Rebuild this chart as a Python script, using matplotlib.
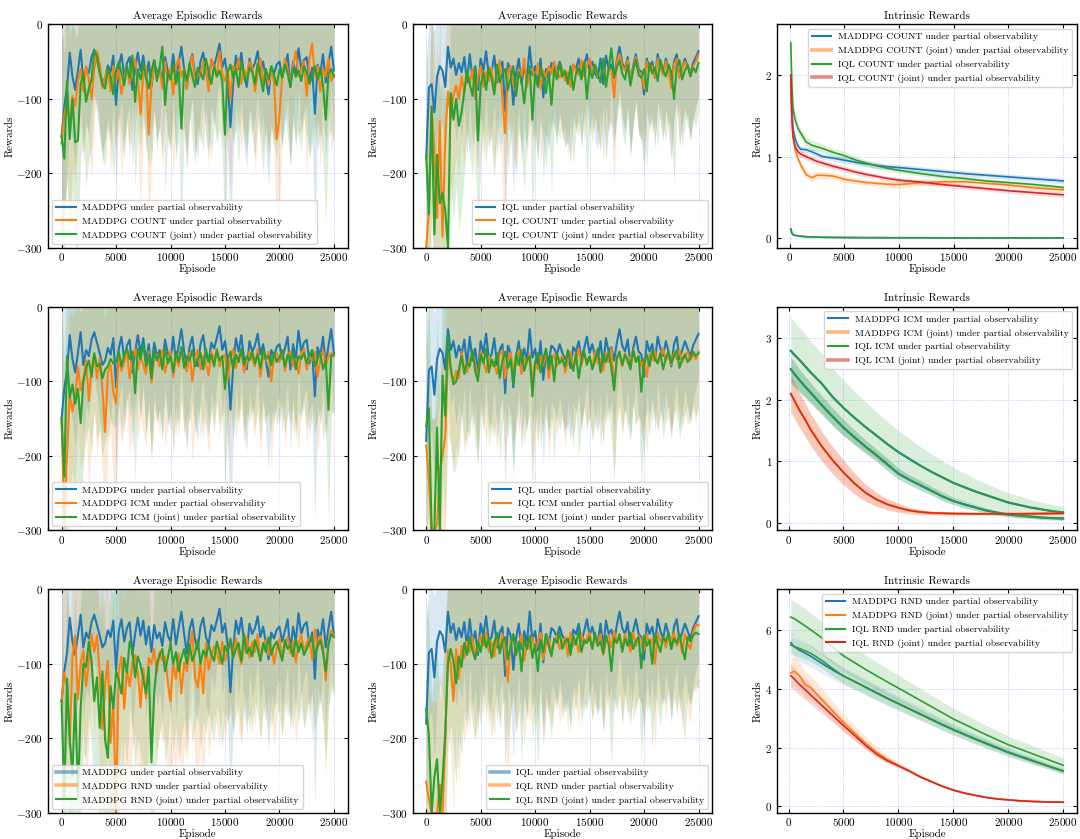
import matplotlib
matplotlib.use('Agg')
from matplotlib import pyplot as plt
from matplotlib import rcParams
from matplotlib.lines import Line2D
import numpy as np

rcParams['font.family'] = 'serif'
rcParams['font.serif'] = ['cmr10']
rcParams['mathtext.fontset'] = 'cm'
rcParams['axes.formatter.use_mathtext'] = True
rcParams['axes.unicode_minus'] = True
rcParams['font.size'] = 8
rcParams['xtick.direction'] = 'in'
rcParams['ytick.direction'] = 'in'
rcParams['xtick.top'] = True
rcParams['ytick.right'] = True
rcParams['xtick.major.size'] = 3
rcParams['ytick.major.size'] = 3
rcParams['xtick.major.pad'] = 2.5
rcParams['axes.linewidth'] = 1.0

BLUE, ORANGE, GREEN, RED = '#1f77b4', '#ff7f0e', '#2ca02c', '#d62728'

# episodes at which the average episodic reward was logged
episodes = list(range(0, 25001, 250))

# ---- baselines -------------------------------------------------------------
maddpg_mean = [
    -150, -110, -85, -38, -70, -88, -62, -34, -78, -58,
    -66, -44, -34, -48, -62, -78, -72, -55, -64, -42,
    -108, -56, -40, -70, -52, -44, -88, -60, -38, -62,
    -42, -74, -50, -84, -48, -66, -58, -76, -44, -62,
    -70, -40, -74, -52, -30, -60, -86, -54, -40, -68,
    -80, -50, -38, -64, -74, -48, -56, -42, -26, -58,
    -46, -74, -138, -80, -42, -60, -38, -70, -84, -46,
    -60, -52, -36, -64, -50, -72, -94, -58, -66, -54,
    -50, -70, -56, -40, -84, -50, -70, -32, -60, -48,
    -44, -76, -58, -120, -54, -66, -40, -78, -52, -30,
    -62]
maddpg_std = [
    150, 140, 120, 90, 85, 100, 80, 70, 95, 75,
    80, 65, 60, 70, 85, 95, 80, 70, 90, 60,
    110, 75, 60, 95, 70, 65, 105, 80, 55, 85,
    60, 100, 70, 110, 65, 90, 80, 100, 60, 85,
    95, 60, 100, 75, 50, 85, 110, 75, 60, 95,
    100, 70, 55, 90, 100, 65, 80, 60, 50, 85,
    65, 100, 150, 100, 60, 85, 55, 95, 110, 65,
    85, 75, 55, 90, 70, 95, 125, 80, 90, 75,
    70, 95, 75, 60, 110, 70, 95, 50, 85, 70,
    65, 100, 80, 170, 75, 90, 60, 100, 75, 50,
    85]

iql_mean = [
    -180, -85, -80, -118, -70, -56, -62, -84, -30, -58,
    -46, -68, -52, -64, -44, -78, -40, -72, -56, -88,
    -46, -62, -36, -70, -64, -42, -78, -58, -50, -116,
    -52, -62, -108, -66, -46, -80, -56, -72, -30, -68,
    -56, -82, -46, -98, -60, -74, -52, -56, -64, -50,
    -62, -70, -66, -82, -54, -60, -46, -70, -56, -40,
    -62, -50, -66, -72, -46, -80, -42, -60, -54, -72,
    -48, -30, -52, -60, -44, -78, -56, -40, -60, -64,
    -94, -46, -60, -50, -72, -40, -56, -66, -46, -60,
    -80, -50, -40, -70, -58, -46, -56, -66, -52, -44,
    -36]
iql_std = [
    130, 90, 85, 110, 80, 70, 75, 95, 60, 75,
    70, 90, 75, 85, 65, 100, 60, 95, 75, 105,
    70, 85, 60, 95, 85, 65, 100, 80, 70, 130,
    75, 85, 120, 90, 65, 105, 80, 95, 55, 90,
    80, 100, 70, 115, 85, 95, 75, 80, 90, 70,
    85, 95, 90, 100, 75, 80, 70, 95, 75, 60,
    85, 70, 90, 95, 70, 105, 65, 85, 75, 95,
    70, 55, 75, 85, 65, 100, 80, 60, 85, 90,
    110, 70, 85, 70, 95, 60, 80, 90, 65, 85,
    100, 75, 60, 95, 80, 65, 80, 90, 75, 65,
    60]

# ---- COUNT -----------------------------------------------------------------
maddpg_count_mean = [
    -160, -122, -100, -135, -96, -110, -76, -60, -90, -56,
    -74, -100, -60, -36, -52, -86, -70, -60, -90, -56,
    -76, -62, -94, -70, -56, -80, -60, -46, -74, -120,
    -64, -56, -148, -80, -56, -70, -60, -86, -50, -76,
    -60, -94, -56, -46, -70, -60, -86, -56, -42, -80,
    -64, -70, -50, -60, -90, -46, -56, -70, -36, -66,
    -76, -60, -100, -56, -66, -46, -80, -60, -70, -50,
    -56, -90, -66, -46, -76, -60, -82, -62, -76, -154,
    -124, -70, -46, -60, -80, -56, -36, -70, -60, -50,
    -96, -46, -26, -70, -56, -90, -60, -70, -46, -76,
    -68]
maddpg_count_std = [
    140, 120, 110, 120, 95, 105, 85, 75, 100, 70,
    85, 110, 75, 60, 70, 100, 85, 75, 110, 70,
    90, 75, 115, 80, 70, 100, 75, 60, 90, 130,
    80, 70, 150, 100, 70, 85, 75, 105, 65, 90,
    75, 110, 70, 60, 85, 75, 105, 70, 55, 95,
    80, 90, 65, 75, 105, 60, 70, 85, 50, 80,
    95, 75, 120, 70, 80, 60, 95, 75, 85, 65,
    70, 110, 80, 60, 95, 75, 100, 80, 95, 150,
    130, 85, 60, 75, 100, 70, 50, 90, 75, 65,
    115, 60, 45, 90, 70, 105, 75, 85, 60, 95,
    85]
maddpg_count_joint_mean = [
    -150, -180, -76, -154, -100, -158, -156, -80, -66, -104,
    -86, -74, -36, -42, -66, -80, -86, -60, -70, -94,
    -62, -50, -66, -82, -56, -72, -42, -104, -60, -74,
    -52, -70, -86, -62, -48, -76, -58, -30, -108, -64,
    -74, -54, -80, -64, -140, -60, -76, -52, -70, -84,
    -58, -66, -74, -46, -64, -80, -56, -70, -62, -76,
    -148, -64, -54, -72, -60, -84, -50, -68, -76, -58,
    -64, -80, -52, -70, -90, -60, -74, -56, -68, -82,
    -60, -72, -54, -66, -84, -58, -70, -62, -76, -56,
    -64, -80, -70, -56, -74, -60, -82, -128, -66, -60,
    -70]
maddpg_count_joint_std = [
    150, 140, 110, 150, 120, 140, 145, 100, 85, 115,
    95, 90, 60, 65, 85, 100, 105, 80, 90, 110,
    80, 70, 85, 100, 75, 95, 60, 115, 80, 95,
    70, 90, 105, 80, 65, 95, 75, 55, 120, 85,
    95, 70, 100, 85, 140, 80, 95, 70, 90, 105,
    75, 85, 95, 65, 85, 100, 75, 90, 80, 95,
    150, 85, 70, 90, 80, 105, 70, 85, 95, 75,
    85, 100, 70, 90, 110, 80, 95, 75, 90, 100,
    80, 90, 70, 85, 105, 75, 90, 80, 95, 70,
    85, 100, 90, 75, 95, 80, 100, 140, 85, 80,
    90]
iql_count_mean = [
    -300, -250, -110, -170, -260, -130, -285, -155, -90, -125,
    -95, -82, -100, -70, -92, -64, -80, -60, -100, -72,
    -56, -84, -64, -76, -58, -92, -70, -48, -100, -146,
    -64, -56, -80, -92, -60, -70, -46, -84, -62, -60,
    -74, -52, -86, -62, -70, -56, -66, -50, -62, -72,
    -60, -76, -64, -84, -54, -62, -68, -48, -70, -56,
    -46, -64, -56, -70, -74, -50, -80, -58, -62, -98,
    -50, -40, -56, -62, -48, -76, -60, -44, -64, -66,
    -86, -50, -62, -56, -72, -46, -58, -68, -50, -62,
    -86, -54, -46, -72, -60, -50, -58, -68, -56, -50,
    -40]
iql_count_std = [
    150, 150, 130, 150, 150, 140, 150, 140, 110, 130,
    110, 95, 105, 85, 100, 80, 90, 75, 115, 85,
    70, 100, 80, 90, 70, 110, 85, 60, 120, 160,
    80, 70, 100, 105, 75, 85, 60, 100, 75, 70,
    90, 65, 105, 75, 85, 70, 80, 60, 75, 85,
    75, 90, 80, 100, 65, 75, 85, 60, 85, 70,
    60, 80, 70, 85, 90, 65, 100, 70, 75, 115,
    65, 55, 70, 75, 60, 90, 75, 55, 80, 80,
    100, 65, 75, 70, 90, 60, 70, 85, 65, 75,
    100, 70, 60, 90, 75, 65, 70, 85, 70, 65,
    55]
iql_count_joint_mean = [
    -176, -255, -110, -282, -175, -240, -226, -250, -300, -92,
    -128, -100, -136, -118, -90, -62, -80, -96, -58, -156,
    -82, -64, -88, -58, -72, -94, -54, -78, -66, -60,
    -88, -72, -56, -96, -64, -76, -106, -70, -56, -128,
    -66, -84, -58, -70, -92, -64, -108, -60, -74, -52,
    -70, -62, -80, -56, -88, -66, -58, -74, -50, -100,
    -60, -72, -54, -66, -78, -46, -84, -60, -32, -70,
    -58, -48, -66, -74, -54, -82, -62, -48, -68, -72,
    -60, -90, -52, -66, -58, -76, -48, -62, -70, -54,
    -64, -100, -56, -48, -74, -62, -54, -70, -58, -64,
    -52]
iql_count_joint_std = [
    150, 150, 140, 150, 150, 150, 150, 150, 150, 120,
    140, 115, 140, 130, 110, 80, 95, 110, 75, 150,
    100, 80, 105, 70, 90, 110, 70, 95, 85, 75,
    105, 85, 70, 110, 80, 90, 120, 85, 70, 140,
    80, 100, 70, 85, 105, 80, 120, 75, 90, 65,
    85, 75, 95, 70, 100, 80, 70, 90, 65, 115,
    75, 85, 70, 80, 95, 60, 100, 75, 50, 85,
    70, 60, 80, 90, 70, 95, 75, 60, 80, 85,
    75, 105, 65, 80, 70, 90, 60, 75, 85, 70,
    80, 115, 70, 60, 90, 75, 65, 85, 70, 75,
    65]

# ---- ICM -------------------------------------------------------------------
maddpg_icm_mean = [
    -150, -290, -200, -118, -140, -120, -80, -112, -98, -72,
    -126, -82, -64, -96, -70, -110, -168, -88, -78, -114,
    -130, -66, -86, -74, -60, -96, -72, -56, -84, -66,
    -78, -90, -60, -102, -70, -64, -80, -58, -88, -72,
    -60, -94, -68, -80, -56, -76, -86, -62, -100, -70,
    -58, -84, -66, -76, -92, -60, -72, -56, -80, -68,
    -64, -98, -70, -56, -82, -66, -60, -88, -74, -60,
    -70, -80, -56, -94, -66, -72, -60, -100, -68, -62,
    -74, -58, -86, -66, -60, -80, -70, -90, -62, -56,
    -84, -66, -72, -60, -94, -70, -58, -80, -66, -62,
    -66]
maddpg_icm_std = [
    150, 150, 140, 110, 130, 115, 90, 105, 100, 85,
    125, 95, 75, 105, 85, 115, 150, 100, 90, 120,
    130, 85, 100, 90, 75, 105, 85, 70, 95, 80,
    90, 100, 75, 110, 85, 75, 95, 70, 100, 85,
    75, 105, 80, 95, 70, 90, 100, 75, 110, 85,
    70, 95, 80, 90, 105, 75, 85, 70, 95, 80,
    75, 110, 85, 70, 95, 80, 75, 100, 85, 70,
    85, 95, 70, 105, 80, 85, 75, 115, 80, 75,
    85, 70, 100, 80, 75, 95, 85, 105, 75, 70,
    100, 80, 85, 75, 105, 85, 70, 95, 80, 75,
    80]
maddpg_icm_joint_mean = [
    -150, -228, -66, -122, -104, -130, -110, -156, -100, -82,
    -72, -94, -62, -80, -76, -96, -84, -80, -70, -76,
    -74, -60, -80, -64, -56, -70, -60, -116, -56, -70,
    -50, -80, -64, -96, -58, -72, -62, -84, -56, -76,
    -66, -88, -60, -74, -54, -82, -66, -72, -58, -80,
    -70, -62, -84, -56, -74, -64, -80, -58, -72, -66,
    -110, -70, -60, -84, -64, -74, -56, -78, -66, -72,
    -60, -76, -64, -82, -58, -70, -66, -78, -62, -74,
    -68, -58, -80, -64, -72, -60, -84, -66, -70, -62,
    -76, -64, -58, -80, -70, -62, -84, -72, -138, -66,
    -64]
maddpg_icm_joint_std = [
    150, 150, 110, 130, 115, 135, 120, 150, 110, 95,
    85, 105, 75, 95, 90, 105, 95, 90, 80, 85,
    85, 70, 90, 75, 65, 80, 70, 120, 65, 80,
    60, 90, 75, 105, 70, 85, 75, 95, 65, 85,
    75, 100, 70, 85, 65, 90, 75, 85, 70, 90,
    80, 70, 95, 65, 85, 75, 90, 70, 85, 75,
    130, 80, 70, 95, 75, 85, 65, 90, 75, 85,
    70, 85, 75, 95, 70, 80, 75, 90, 70, 85,
    80, 70, 90, 75, 85, 70, 95, 75, 80, 70,
    85, 75, 70, 90, 80, 75, 95, 85, 150, 80,
    75]
iql_icm_mean = [
    -186, -232, -300, -300, -292, -220, -200, -174, -62, -84,
    -100, -86, -96, -60, -82, -88, -70, -64, -76, -96,
    -60, -72, -88, -66, -80, -74, -90, -64, -58, -96,
    -70, -62, -84, -76, -58, -90, -68, -76, -62, -100,
    -74, -84, -66, -78, -60, -96, -72, -64, -80, -70,
    -66, -88, -74, -60, -82, -70, -56, -78, -64, -72,
    -68, -80, -60, -76, -70, -86, -62, -74, -56, -110,
    -70, -64, -80, -62, -76, -68, -58, -74, -66, -80,
    -70, -94, -64, -72, -60, -76, -68, -56, -72, -66,
    -78, -62, -70, -58, -74, -66, -60, -72, -64, -70,
    -60]
iql_icm_std = [
    150, 150, 150, 150, 150, 150, 140, 140, 110, 100,
    115, 100, 110, 75, 95, 100, 85, 80, 90, 110,
    75, 85, 100, 80, 95, 85, 105, 80, 70, 110,
    85, 75, 100, 90, 70, 105, 80, 90, 75, 115,
    85, 100, 80, 90, 75, 110, 85, 75, 95, 80,
    80, 100, 85, 70, 95, 80, 70, 90, 75, 85,
    80, 95, 70, 90, 80, 100, 75, 85, 65, 120,
    85, 75, 95, 70, 90, 80, 70, 85, 80, 95,
    85, 105, 75, 85, 70, 90, 80, 65, 85, 80,
    95, 75, 85, 70, 90, 80, 70, 85, 75, 85,
    70]
iql_icm_joint_mean = [
    -160, -136, -300, -300, -162, -300, -92, -146, -40, -82,
    -104, -100, -84, -66, -90, -74, -80, -58, -86, -100,
    -64, -76, -56, -88, -70, -80, -62, -96, -72, -60,
    -82, -70, -104, -64, -78, -58, -86, -72, -66, -120,
    -74, -62, -88, -70, -56, -84, -66, -100, -62, -76,
    -70, -80, -58, -74, -86, -62, -96, -72, -60, -78,
    -66, -84, -72, -56, -88, -64, -74, -60, -82, -112,
    -68, -60, -78, -64, -72, -84, -58, -74, -66, -114,
    -72, -64, -80, -58, -70, -76, -62, -84, -68, -60,
    -76, -66, -58, -82, -70, -64, -74, -68, -60, -66,
    -62]
iql_icm_joint_std = [
    150, 145, 150, 150, 150, 150, 130, 145, 90, 105,
    120, 115, 100, 80, 105, 90, 95, 70, 100, 115,
    75, 90, 70, 100, 85, 95, 75, 110, 85, 75,
    95, 85, 115, 75, 90, 70, 100, 85, 80, 130,
    85, 75, 100, 85, 70, 95, 80, 110, 75, 90,
    80, 95, 70, 85, 100, 75, 105, 85, 70, 90,
    80, 95, 85, 70, 100, 75, 85, 70, 95, 120,
    80, 70, 90, 75, 85, 95, 70, 85, 80, 125,
    85, 75, 95, 70, 80, 90, 75, 95, 80, 70,
    90, 80, 70, 95, 85, 75, 85, 80, 70, 80,
    75]

# ---- RND -------------------------------------------------------------------
maddpg_rnd_mean = [
    -150, -112, -128, -208, -90, -62, -148, -100, -82, -130,
    -96, -60, -84, -62, -112, -188, -126, -96, -206, -150,
    -300, -110, -90, -160, -108, -130, -98, -88, -112, -158,
    -106, -146, -92, -100, -80, -112, -84, -96, -90, -124,
    -150, -100, -120, -86, -140, -98, -110, -84, -56, -118,
    -132, -96, -140, -72, -108, -90, -76, -84, -100, -70,
    -96, -80, -74, -90, -66, -86, -100, -78, -64, -92,
    -70, -84, -60, -96, -78, -68, -88, -74, -100, -80,
    -66, -92, -76, -64, -86, -70, -98, -74, -60, -84,
    -72, -66, -94, -54, -80, -62, -76, -122, -70, -56,
    -62]
maddpg_rnd_std = [
    150, 120, 135, 150, 110, 90, 150, 120, 105, 140,
    115, 85, 110, 85, 130, 150, 140, 115, 150, 150,
    150, 130, 110, 150, 125, 140, 115, 105, 130, 150,
    120, 140, 110, 115, 95, 125, 100, 110, 105, 135,
    140, 115, 130, 100, 140, 110, 120, 100, 75, 125,
    130, 105, 140, 90, 120, 100, 90, 100, 110, 85,
    105, 95, 90, 100, 80, 100, 110, 90, 80, 105,
    85, 100, 75, 110, 90, 80, 100, 85, 110, 95,
    80, 105, 90, 80, 100, 85, 110, 90, 75, 100,
    85, 80, 110, 70, 95, 75, 90, 130, 85, 70,
    75]
maddpg_rnd_joint_mean = [
    -150, -280, -120, -200, -250, -140, -280, -160, -100, -104,
    -70, -96, -150, -118, -186, -110, -202, -226, -130, -160,
    -110, -122, -140, -92, -112, -70, -82, -118, -90, -102,
    -120, -140, -104, -232, -140, -100, -88, -80, -110, -92,
    -72, -100, -84, -110, -92, -80, -100, -74, -96, -86,
    -68, -100, -82, -90, -74, -88, -96, -70, -84, -100,
    -76, -84, -66, -92, -80, -72, -96, -60, -86, -78,
    -90, -68, -80, -96, -72, -84, -64, -88, -76, -70,
    -82, -96, -68, -80, -74, -90, -66, -84, -72, -88,
    -80, -70, -64, -92, -76, -68, -84, -110, -74, -60,
    -64]
maddpg_rnd_joint_std = [
    150, 150, 135, 150, 150, 140, 150, 150, 120, 120,
    95, 115, 150, 135, 150, 125, 150, 150, 140, 150,
    125, 135, 150, 110, 125, 90, 105, 130, 110, 120,
    130, 150, 120, 150, 145, 115, 105, 95, 125, 110,
    90, 115, 100, 125, 105, 95, 115, 90, 110, 100,
    85, 115, 95, 105, 85, 100, 110, 85, 95, 115,
    90, 95, 80, 105, 90, 85, 105, 75, 95, 90,
    100, 80, 90, 105, 85, 95, 75, 100, 85, 80,
    90, 105, 80, 90, 85, 100, 75, 95, 85, 100,
    90, 80, 75, 100, 85, 80, 95, 120, 85, 75,
    75]
iql_rnd_mean = [
    -258, -282, -300, -300, -300, -262, -300, -204, -82, -100,
    -150, -80, -120, -76, -92, -70, -84, -64, -90, -80,
    -62, -76, -58, -84, -70, -90, -66, -80, -60, -86,
    -124, -70, -64, -88, -76, -60, -96, -72, -80, -64,
    -86, -70, -58, -94, -74, -66, -84, -70, -62, -80,
    -72, -64, -90, -58, -76, -68, -84, -60, -74, -66,
    -58, -80, -66, -74, -60, -88, -70, -62, -78, -56,
    -72, -64, -80, -60, -70, -84, -58, -76, -62, -68,
    -82, -60, -74, -66, -100, -58, -70, -64, -78, -60,
    -70, -58, -76, -64, -86, -60, -72, -80, -58, -48,
    -48]
iql_rnd_std = [
    150, 150, 150, 150, 150, 150, 150, 150, 100, 120,
    150, 100, 140, 95, 115, 90, 105, 80, 110, 100,
    80, 95, 75, 105, 90, 110, 85, 100, 75, 105,
    140, 90, 80, 105, 95, 75, 115, 90, 100, 80,
    105, 90, 75, 110, 95, 85, 100, 90, 80, 100,
    90, 80, 105, 75, 95, 85, 100, 75, 90, 85,
    75, 100, 85, 95, 75, 105, 90, 80, 95, 70,
    90, 80, 100, 75, 90, 100, 75, 95, 80, 85,
    100, 75, 90, 85, 115, 75, 90, 80, 95, 75,
    90, 75, 95, 80, 105, 75, 90, 100, 75, 90,
    80]
iql_rnd_joint_mean = [
    -160, -196, -300, -252, -228, -300, -256, -192, -100, -80,
    -96, -126, -90, -104, -72, -88, -64, -82, -94, -70,
    -84, -60, -78, -66, -92, -72, -58, -86, -70, -64,
    -94, -76, -60, -88, -70, -110, -66, -80, -62, -92,
    -74, -110, -68, -84, -60, -76, -90, -66, -72, -58,
    -80, -70, -66, -88, -62, -74, -56, -84, -68, -72,
    -64, -80, -58, -76, -70, -86, -62, -74, -110, -66,
    -72, -60, -84, -66, -76, -58, -80, -70, -64, -106,
    -62, -76, -68, -100, -60, -72, -84, -64, -70, -58,
    -80, -66, -72, -60, -78, -94, -64, -70, -62, -58,
    -60]
iql_rnd_joint_std = [
    150, 150, 150, 150, 150, 150, 150, 150, 115, 100,
    115, 140, 105, 120, 90, 105, 80, 100, 110, 85,
    100, 75, 95, 80, 110, 90, 75, 105, 85, 80,
    110, 95, 75, 105, 85, 125, 80, 95, 75, 110,
    90, 125, 85, 100, 75, 95, 110, 80, 90, 75,
    95, 85, 80, 105, 75, 90, 70, 100, 85, 90,
    80, 95, 75, 90, 85, 105, 75, 90, 125, 80,
    90, 75, 100, 80, 95, 70, 95, 85, 80, 125,
    75, 90, 85, 115, 75, 90, 100, 80, 85, 70,
    95, 80, 90, 75, 95, 110, 80, 85, 75, 70,
    75]

# ---- intrinsic rewards -----------------------------------------------------
count_episodes = [100, 200, 300, 500, 750, 1000, 1500, 2000, 2500, 3000, 4000,
                  5000, 6000, 7000, 8000, 9000, 10000, 12000, 14000, 16000,
                  18000, 20000, 22000, 24000, 25000]
count_maddpg = [2.0, 1.6, 1.35, 1.22, 1.13, 1.09, 1.085, 1.06, 1.03, 1.0, 0.98,
                0.955, 0.93, 0.91, 0.89, 0.875, 0.865, 0.84, 0.815, 0.79,
                0.77, 0.75, 0.73, 0.71, 0.70]
count_maddpg_sd = [0.08, 0.06, 0.05, 0.04, 0.04, 0.04, 0.035, 0.035, 0.035,
                   0.035, 0.035, 0.035, 0.035, 0.035, 0.035, 0.035, 0.035,
                   0.035, 0.035, 0.035, 0.035, 0.035, 0.035, 0.035, 0.035]
count_maddpg_joint = [1.95, 1.45, 1.25, 1.08, 0.98, 0.9, 0.78, 0.74, 0.77,
                      0.77, 0.76, 0.72, 0.70, 0.68, 0.67, 0.66, 0.655, 0.68,
                      0.69, 0.69, 0.67, 0.65, 0.62, 0.60, 0.59]
count_maddpg_joint_sd = [0.08, 0.06, 0.05, 0.05, 0.05, 0.05, 0.05, 0.05, 0.05,
                         0.045, 0.04, 0.04, 0.035, 0.035, 0.04, 0.045, 0.045,
                         0.04, 0.035, 0.03, 0.03, 0.03, 0.03, 0.03, 0.03]
count_iql = [2.4, 1.9, 1.6, 1.45, 1.35, 1.29, 1.18, 1.14, 1.12, 1.1, 1.05,
             1.01, 0.96, 0.92, 0.885, 0.855, 0.83, 0.79, 0.755, 0.73, 0.70,
             0.68, 0.66, 0.635, 0.62]
count_iql_sd = [0.1, 0.08, 0.07, 0.06, 0.06, 0.06, 0.06, 0.06, 0.055, 0.05,
                0.05, 0.05, 0.045, 0.04, 0.04, 0.035, 0.03, 0.03, 0.03, 0.025,
                0.025, 0.025, 0.025, 0.025, 0.025]
count_iql_joint = [2.0, 1.5, 1.25, 1.12, 1.06, 1.03, 1.0, 0.97, 0.94, 0.92,
                   0.88, 0.845, 0.81, 0.78, 0.755, 0.73, 0.71, 0.685, 0.655,
                   0.63, 0.605, 0.58, 0.56, 0.54, 0.53]
count_iql_joint_sd = [0.08, 0.06, 0.05, 0.04, 0.04, 0.04, 0.04, 0.04, 0.04,
                      0.04, 0.04, 0.035, 0.035, 0.035, 0.03, 0.03, 0.03, 0.03,
                      0.03, 0.03, 0.03, 0.03, 0.03, 0.03, 0.03]
count_floor = [0.11, 0.06, 0.04, 0.03, 0.025, 0.02, 0.015, 0.012, 0.01, 0.008,
               0.006, 0.005, 0.004, 0.003, 0.003, 0.002, 0.002, 0.002, 0.001,
               0.001, 0.001, 0.001, 0.001, 0.001, 0.001]

intr_episodes = [200, 500, 1000, 1500, 2000, 3000, 4000, 5000, 6000, 7000,
                 8000, 9000, 10000, 11000, 12000, 13000, 14000, 15000, 16000,
                 17000, 18000, 19000, 20000, 21000, 22000, 23000, 24000, 25000]
icm_high = [2.80, 2.74, 2.65, 2.55, 2.45, 2.27, 2.05, 1.87, 1.71, 1.56, 1.42,
            1.28, 1.15, 1.04, 0.93, 0.83, 0.74, 0.65, 0.58, 0.51, 0.45, 0.39,
            0.33, 0.29, 0.25, 0.22, 0.19, 0.17]
icm_high_sd = [0.55, 0.54, 0.53, 0.52, 0.51, 0.49, 0.47, 0.45, 0.43, 0.41,
               0.39, 0.37, 0.35, 0.33, 0.31, 0.29, 0.27, 0.25, 0.23, 0.21,
               0.19, 0.17, 0.16, 0.15, 0.13, 0.12, 0.11, 0.10]
icm_low = [2.50, 2.43, 2.32, 2.22, 2.12, 1.92, 1.73, 1.55, 1.39, 1.24, 1.10,
           0.95, 0.80, 0.70, 0.61, 0.52, 0.43, 0.355, 0.30, 0.25, 0.20, 0.165,
           0.135, 0.115, 0.10, 0.085, 0.075, 0.07]
icm_low_sd = [0.2, 0.19, 0.18, 0.17, 0.16, 0.15, 0.14, 0.13, 0.12, 0.11, 0.1,
              0.1, 0.09, 0.08, 0.08, 0.07, 0.07, 0.06, 0.06, 0.05, 0.05, 0.04,
              0.04, 0.04, 0.03, 0.03, 0.03, 0.03]
icm_joint = [2.10, 2.00, 1.83, 1.68, 1.52, 1.25, 1.02, 0.82, 0.64, 0.49, 0.38,
             0.30, 0.245, 0.20, 0.175, 0.16, 0.155, 0.15, 0.148, 0.146, 0.145,
             0.145, 0.145, 0.146, 0.148, 0.15, 0.152, 0.155]
icm_joint_sd = [0.30, 0.29, 0.28, 0.27, 0.26, 0.24, 0.22, 0.20, 0.17, 0.14,
                0.11, 0.09, 0.07, 0.05, 0.04, 0.03, 0.03, 0.02, 0.02, 0.02,
                0.02, 0.02, 0.02, 0.02, 0.02, 0.02, 0.02, 0.02]

rnd_iql_high = [6.45, 6.40, 6.28, 6.15, 6.02, 5.75, 5.42, 5.13, 4.90, 4.67,
                4.45, 4.24, 4.03, 3.82, 3.61, 3.40, 3.19, 2.98, 2.80, 2.62,
                2.44, 2.27, 2.10, 1.96, 1.82, 1.68, 1.54, 1.40]
rnd_iql_high_sd = [0.6, 0.6, 0.59, 0.58, 0.57, 0.55, 0.53, 0.51, 0.5, 0.48,
                   0.47, 0.45, 0.44, 0.42, 0.41, 0.39, 0.38, 0.36, 0.35, 0.33,
                   0.32, 0.31, 0.3, 0.29, 0.28, 0.27, 0.26, 0.25]
rnd_maddpg = [5.58, 5.45, 5.32, 5.22, 5.12, 4.88, 4.65, 4.44, 4.26, 4.07,
              3.88, 3.69, 3.51, 3.33, 3.15, 2.97, 2.79, 2.62, 2.46, 2.30,
              2.15, 2.00, 1.85, 1.72, 1.59, 1.46, 1.33, 1.21]
rnd_maddpg_sd = [0.4, 0.39, 0.38, 0.37, 0.36, 0.34, 0.32, 0.3, 0.29, 0.28,
                 0.27, 0.26, 0.25, 0.24, 0.23, 0.22, 0.21, 0.2, 0.19, 0.18,
                 0.17, 0.16, 0.15, 0.14, 0.13, 0.12, 0.11, 0.1]
rnd_iql = [5.50, 5.45, 5.38, 5.30, 5.22, 4.98, 4.70, 4.44, 4.25, 4.05, 3.86,
           3.67, 3.49, 3.31, 3.13, 2.95, 2.77, 2.60, 2.44, 2.28, 2.13, 1.98,
           1.83, 1.70, 1.57, 1.45, 1.32, 1.20]
rnd_iql_sd = [0.3, 0.3, 0.29, 0.28, 0.28, 0.27, 0.26, 0.25, 0.24, 0.23, 0.22,
              0.21, 0.2, 0.19, 0.18, 0.17, 0.16, 0.15, 0.15, 0.14, 0.13, 0.12,
              0.12, 0.11, 0.1, 0.1, 0.09, 0.09]
rnd_maddpg_joint = [4.55, 4.60, 4.45, 4.15, 4.05, 3.65, 3.25, 2.85, 2.50, 2.15,
                    1.85, 1.60, 1.40, 1.21, 1.01, 0.85, 0.69, 0.56, 0.46, 0.38,
                    0.31, 0.26, 0.225, 0.195, 0.175, 0.16, 0.15, 0.145]
rnd_maddpg_joint_sd = [0.5, 0.49, 0.47, 0.44, 0.42, 0.38, 0.34, 0.3, 0.26,
                       0.22, 0.18, 0.14, 0.1, 0.07, 0.05, 0.04, 0.03, 0.03,
                       0.02, 0.02, 0.02, 0.02, 0.02, 0.02, 0.02, 0.02, 0.02,
                       0.02]
rnd_iql_joint = [4.45, 4.35, 4.15, 3.98, 3.80, 3.45, 3.10, 2.75, 2.42, 2.08,
                 1.78, 1.55, 1.38, 1.20, 1.00, 0.84, 0.68, 0.55, 0.45, 0.37,
                 0.30, 0.25, 0.22, 0.19, 0.17, 0.155, 0.145, 0.14]
rnd_iql_joint_sd = [0.4, 0.38, 0.36, 0.34, 0.32, 0.28, 0.24, 0.2, 0.16, 0.12,
                    0.09, 0.07, 0.05, 0.04, 0.04, 0.03, 0.03, 0.02, 0.02, 0.02,
                    0.02, 0.02, 0.02, 0.02, 0.02, 0.02, 0.02, 0.02]


def shaded(ax, x, mean, sd, color, lw=1.5, alpha=0.17, band=True):
    mean = np.asarray(mean, dtype=float)
    sd = np.asarray(sd, dtype=float)
    if band:
        ax.fill_between(x, mean - sd, mean + sd, color=color, alpha=alpha, lw=0)
    ax.plot(x, mean, color=color, lw=lw)


def style(ax, title):
    ax.set_title(title, fontsize=8, pad=4)
    ax.set_xlabel('Episode', labelpad=0.5)
    ax.set_ylabel('Rewards', labelpad=1.5)
    ax.set_xticks([0, 5000, 10000, 15000, 20000, 25000])
    ax.grid(True, color='#9fa0ff', ls=':', lw=0.6, alpha=0.8)
    ax.set_axisbelow(True)


def legend(ax, entries, loc, soft=()):
    handles = []
    for i, (color, _) in enumerate(entries):
        if i in soft:
            handles.append(Line2D([], [], color=color, lw=2.6, alpha=0.55))
        else:
            handles.append(Line2D([], [], color=color, lw=1.5))
    ax.legend(handles, [lab for _, lab in entries], loc=loc, fontsize=7,
              framealpha=0.8, edgecolor='#cccccc', handlelength=2.0,
              handletextpad=0.7, borderpad=0.4, labelspacing=0.5,
              borderaxespad=0.45)


fig = plt.figure(figsize=(10.8, 8.39), dpi=100)
axs = fig.subplots(3, 3)
fig.subplots_adjust(left=0.0444, right=0.997, bottom=0.031, top=0.971,
                    wspace=0.217, hspace=0.263)

PO = ' under partial observability'
reward_panels = [
    (axs[0, 0], 'MADDPG', 'COUNT', maddpg_mean, maddpg_std,
     maddpg_count_mean, maddpg_count_std,
     maddpg_count_joint_mean, maddpg_count_joint_std, 'lower left', ()),
    (axs[0, 1], 'IQL', 'COUNT', iql_mean, iql_std,
     iql_count_mean, iql_count_std,
     iql_count_joint_mean, iql_count_joint_std, 'lower right', ()),
    (axs[1, 0], 'MADDPG', 'ICM', maddpg_mean, maddpg_std,
     maddpg_icm_mean, maddpg_icm_std,
     maddpg_icm_joint_mean, maddpg_icm_joint_std, 'lower left', ()),
    (axs[1, 1], 'IQL', 'ICM', iql_mean, iql_std,
     iql_icm_mean, iql_icm_std,
     iql_icm_joint_mean, iql_icm_joint_std, 'lower right', ()),
    (axs[2, 0], 'MADDPG', 'RND', maddpg_mean, maddpg_std,
     maddpg_rnd_mean, maddpg_rnd_std,
     maddpg_rnd_joint_mean, maddpg_rnd_joint_std, 'lower left', (0, 1)),
    (axs[2, 1], 'IQL', 'RND', iql_mean, iql_std,
     iql_rnd_mean, iql_rnd_std,
     iql_rnd_joint_mean, iql_rnd_joint_std, 'lower right', (0, 1)),
]

for ax, algo, bonus, m0, s0, m1, s1, m2, s2, loc, soft in reward_panels:
    shaded(ax, episodes, m0, s0, BLUE)
    shaded(ax, episodes, m1, s1, ORANGE)
    shaded(ax, episodes, m2, s2, GREEN)
    style(ax, 'Average Episodic Rewards')
    ax.set_ylim(-300, 0)
    ax.set_yticks([-300, -200, -100, 0])
    legend(ax, [(BLUE, algo + PO),
                (ORANGE, f'{algo} {bonus}' + PO),
                (GREEN, f'{algo} {bonus} (joint)' + PO)], loc, soft)

# intrinsic rewards, COUNT
ax = axs[0, 2]
shaded(ax, count_episodes, count_maddpg, count_maddpg_sd, BLUE, lw=1.2)
shaded(ax, count_episodes, count_maddpg_joint, count_maddpg_joint_sd, ORANGE, lw=1.2)
shaded(ax, count_episodes, count_iql, count_iql_sd, GREEN, lw=1.2)
shaded(ax, count_episodes, count_iql_joint, count_iql_joint_sd, RED, lw=1.2)
ax.plot(count_episodes, count_floor, color=BLUE, lw=1.2)
ax.plot(count_episodes, count_floor, color=GREEN, lw=1.2, alpha=0.85)
style(ax, 'Intrinsic Rewards')
ax.set_yticks([0, 1, 2])
legend(ax, [(BLUE, 'MADDPG COUNT' + PO), (ORANGE, 'MADDPG COUNT (joint)' + PO),
            (GREEN, 'IQL COUNT' + PO), (RED, 'IQL COUNT (joint)' + PO)],
       'upper right', (1, 3))

# intrinsic rewards, ICM: the MADDPG curves sit right under the IQL ones
ax = axs[1, 2]
shaded(ax, intr_episodes, icm_low, icm_low_sd, BLUE, lw=1.6)
shaded(ax, intr_episodes, icm_high, icm_high_sd, BLUE, lw=1.6, band=False)
shaded(ax, intr_episodes, icm_joint, icm_joint_sd, ORANGE, lw=1.6)
shaded(ax, intr_episodes, icm_high, icm_high_sd, GREEN, lw=1.1)
shaded(ax, intr_episodes, icm_low, icm_low_sd, GREEN, lw=1.1)
shaded(ax, intr_episodes, icm_joint, icm_joint_sd, RED, lw=1.1)
style(ax, 'Intrinsic Rewards')
ax.set_yticks([0, 1, 2, 3])
legend(ax, [(BLUE, 'MADDPG ICM' + PO), (ORANGE, 'MADDPG ICM (joint)' + PO),
            (GREEN, 'IQL ICM' + PO), (RED, 'IQL ICM (joint)' + PO)],
       'upper right', (1, 3))

# intrinsic rewards, RND
ax = axs[2, 2]
shaded(ax, intr_episodes, rnd_maddpg, rnd_maddpg_sd, BLUE, lw=1.2, alpha=0.12)
shaded(ax, intr_episodes, rnd_maddpg_joint, rnd_maddpg_joint_sd, ORANGE, lw=1.2)
shaded(ax, intr_episodes, rnd_iql_high, rnd_iql_high_sd, GREEN, lw=1.2)
shaded(ax, intr_episodes, rnd_iql, rnd_iql_sd, GREEN, lw=1.2)
shaded(ax, intr_episodes, rnd_iql_joint, rnd_iql_joint_sd, RED, lw=1.2)
style(ax, 'Intrinsic Rewards')
ax.set_yticks([0, 2, 4, 6])
legend(ax, [(BLUE, 'MADDPG RND' + PO), (ORANGE, 'MADDPG RND (joint)' + PO),
            (GREEN, 'IQL RND' + PO), (RED, 'IQL RND (joint)' + PO)],
       'upper right')

fig.savefig('out.png', dpi=100)
